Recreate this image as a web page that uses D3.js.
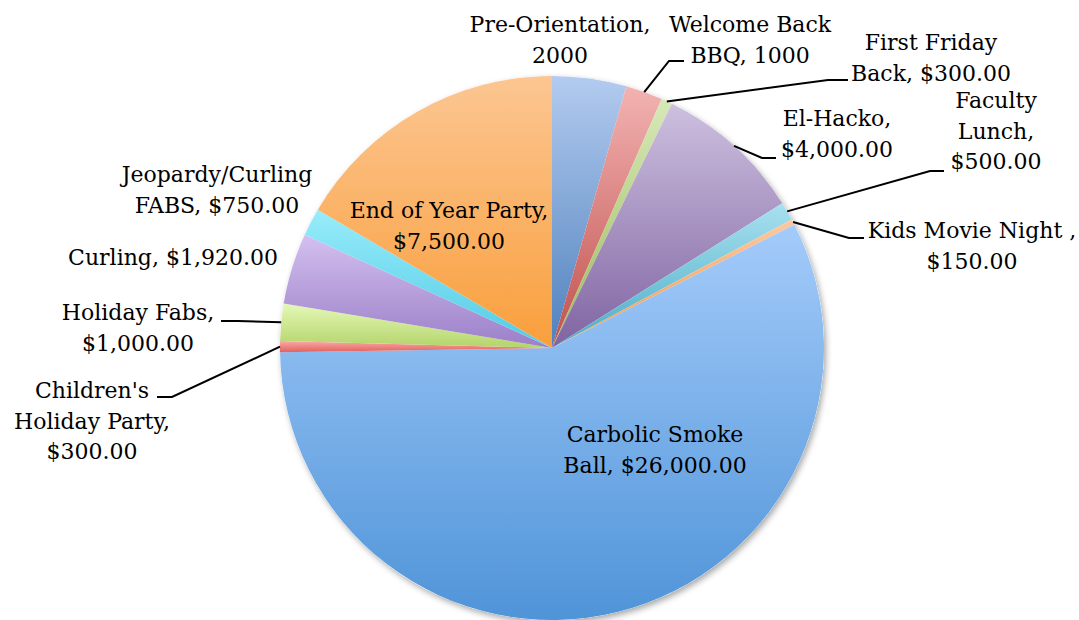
<!DOCTYPE html>
<html><head><meta charset="utf-8">
<script src="https://cdn.jsdelivr.net/npm/d3@7/dist/d3.min.js"></script>
<style>html,body{margin:0;padding:0;background:#fff;}svg{display:block;}</style>
</head><body><svg id="c" width="1079" height="620"></svg>
<script>
const categories = ["Pre-Orientation","Welcome Back BBQ","First Friday Back","El-Hacko","Faculty Lunch","Kids Movie Night ","Carbolic Smoke Ball","Children's Holiday Party","Holiday Fabs","Curling","Jeopardy/Curling FABS","End of Year Party"];
const values = [2000,1000,300,4000,500,150,26000,300,1000,1920,750,7500];
const labelLines = [
  ["Pre-Orientation,","2000"],
  ["Welcome Back","BBQ, 1000"],
  ["First Friday","Back, $300.00"],
  ["El-Hacko,","$4,000.00"],
  ["Faculty","Lunch,","$500.00"],
  ["Kids Movie Night ,","$150.00"],
  ["Carbolic Smoke","Ball, $26,000.00"],
  ["Children's","Holiday Party,","$300.00"],
  ["Holiday Fabs,","$1,000.00"],
  ["Curling, $1,920.00"],
  ["Jeopardy/Curling","FABS, $750.00"],
  ["End of Year Party,","$7,500.00"]
];
const topColors = ["#b3cbef","#f2b3b2","#d7e8b8","#cdc0df","#a8e0ef","#fcc9a0","#a4cbfa","#fbaaa8","#e5f8b7","#d3c0ef","#98ecfa","#fcc692"];
const bottomColors = ["#4f81bd","#c0504d","#9bbb59","#8064a2","#4bacc6","#f79646","#4f94d8","#e0605c","#b3d46a","#9b7fc8","#52cbe6","#f99f3c"];

// layout (label placement)
const cx = 552, cy = 348, R = 272;
const labelPos = [
  {x:560,y:32,leader:null},
  {x:750,y:32,leader:[[669,61],[684,61]]},
  {x:931,y:50,leader:[[828,80],[848,80]]},
  {x:837,y:126,leader:[[762,158],[776,158]]},
  {x:996,y:108,leader:[[930,171],[944,171]]},
  {x:972,y:238,leader:[[849,238],[864,238]]},
  {x:655,y:442,leader:null},
  {x:92,y:398,leader:[[172,397],[157,397]]},
  {x:138,y:320,leader:[[238,321],[221,321]]},
  {x:173,y:265,leader:null},
  {x:217,y:182,leader:null},
  {x:449,y:218,leader:null}
];
const lineH = 30.5;

const svg = d3.select("#c");
const defs = svg.append("defs");
const f = defs.append("filter").attr("id","sh").attr("x","-10%").attr("y","-10%").attr("width","120%").attr("height","120%");
f.append("feDropShadow").attr("dx",2).attr("dy",3).attr("stdDeviation",3).attr("flood-color","#000").attr("flood-opacity",0.35);

categories.forEach((c,i)=>{
  const g = defs.append("linearGradient").attr("id","g"+i).attr("x1",0).attr("y1",0).attr("x2",0).attr("y2",1);
  g.append("stop").attr("offset","0%").attr("stop-color",topColors[i]);
  g.append("stop").attr("offset","100%").attr("stop-color",bottomColors[i]);
});

const pie = d3.pie().sort(null).value(d=>d)(values);
const arc = d3.arc().innerRadius(0).outerRadius(R);
const edge = d3.arc().innerRadius(R).outerRadius(R);

const gp = svg.append("g").attr("transform",`translate(${cx},${cy})`);
gp.append("circle").attr("r",R).attr("fill","#fff").attr("filter","url(#sh)");
gp.selectAll("path.s").data(pie).join("path").attr("class","s")
  .attr("d",arc).attr("fill",(d,i)=>`url(#g${i})`);

// leader lines
pie.forEach((d,i)=>{
  const lp = labelPos[i];
  if(!lp.leader) return;
  const a = (d.startAngle+d.endAngle)/2;
  const p0 = [cx + R*Math.sin(a), cy - R*Math.cos(a)];
  const pts = [p0].concat(lp.leader);
  svg.append("path").attr("d",d3.line()(pts)).attr("fill","none").attr("stroke","#000").attr("stroke-width",2);
});

// labels
labelLines.forEach((lines,i)=>{
  const lp = labelPos[i];
  const t = svg.append("text").attr("text-anchor","middle")
    .attr("font-family","'DejaVu Serif', serif").attr("font-size",22).attr("fill","#000");
  lines.forEach((l,j)=>{
    t.append("tspan").attr("x",lp.x).attr("y",lp.y + j*lineH).text(l);
  });
});
</script></body></html>
